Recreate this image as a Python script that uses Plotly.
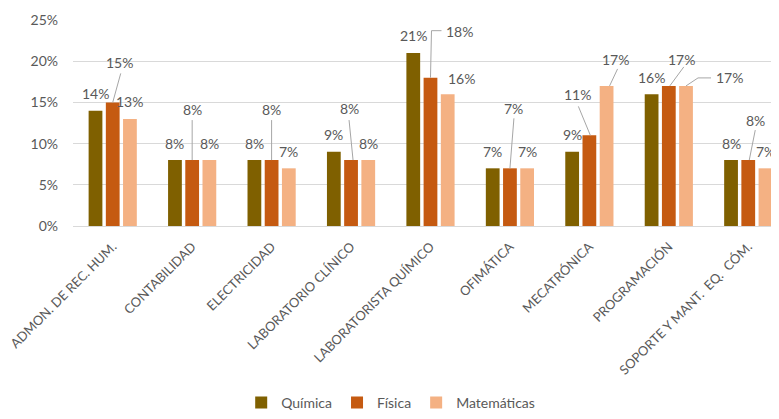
import plotly.graph_objects as go

categories = ["ADMON. DE REC. HUM.", "CONTABILIDAD", "ELECTRICIDAD", "LABORATORIO CLÍNICO",
              "LABORATORISTA QUÍMICO", "OFIMÁTICA", "MECATRÓNICA", "PROGRAMACIÓN",
              "SOPORTE Y MANT.\u00a0 EQ.\u00a0 CÓM."]
series_names = ["Química", "Física", "Matemáticas"]
quimica = [14, 8, 8, 9, 21, 7, 9, 16, 8]
fisica = [15, 8, 8, 8, 18, 7, 11, 17, 8]
matematicas = [13, 8, 7, 8, 16, 7, 17, 17, 7]
y_ticks = [0, 5, 10, 15, 20, 25]
y_tick_labels = ["0%", "5%", "10%", "15%", "20%", "25%"]

colors = ["#7F6000", "#C55A11", "#F4B183"]
series_values = [quimica, fisica, matematicas]

FONT = "Lato, 'Open Sans', sans-serif"
TXT = "#595959"

fig = go.Figure()
for name, vals, col in zip(series_names, series_values, colors):
    fig.add_trace(go.Bar(name=name, x=categories, y=vals, marker=dict(color=col, line=dict(width=0)),
                         hoverinfo="skip"))

# label placement (pixel offsets from bar top centre); default is (0, 17)
bar_offset = [-17.2, 0, 17.2]
special = {
    (1, 0): (7, 40, "M 0,0 L 8,29"),
    (1, 1): (0, 51, "M 0,0 L 0,40"),
    (1, 2): (0, 51, "M 0,0 L 0,40"),
    (1, 3): (-2, 52, "M 2,0 L -2,40"),
    (1, 4): (29, 46, "M 0,0 L 1,47 L 11,47"),
    (2, 4): (14, 16, None),
    (1, 5): (4, 60, "M 0,0 L 4,50"),
    (1, 6): (-12, 41, "M 1,0 L -11,29"),
    (2, 6): (9, 26, "M 3,0 L 11,17"),
    (1, 7): (13, 26, "M 1,0 L 15,19"),
    (2, 7): (43, 8, "M 0,0 L 12,8 L 25,8"),
    (1, 8): (7, 40, "M 1,0 L 7,30"),
}

annotations = []
shapes = []
for s, vals in enumerate(series_values):
    for c, v in enumerate(vals):
        dx, dy, path = special.get((s, c), (0, 17, None))
        annotations.append(dict(
            x=categories[c], y=v, xref="x", yref="y", text=f"{v}%", showarrow=False,
            xshift=bar_offset[s] + dx, yshift=dy, xanchor="center", yanchor="middle",
            font=dict(family=FONT, size=14, color=TXT)))
        if path:
            segs = []
            for part in path.split(" L "):
                part = part.replace("M ", "")
                px, py = part.split(",")
                segs.append(f"{float(px) + bar_offset[s]:.1f},{float(py):.1f}")
            p = "M " + " L ".join(segs)
            shapes.append(dict(type="path", path=p, xref="x", yref="y",
                               xsizemode="pixel", ysizemode="pixel",
                               xanchor=categories[c], yanchor=v,
                               line=dict(color="#A6A6A6", width=1), layer="above"))

# page body has an 8px default margin; figure is sized so it fits the 779x419 window
fig.update_layout(
    width=771, height=411,
    margin=dict(l=65, r=0, t=12, b=189),
    paper_bgcolor="white", plot_bgcolor="white",
    barmode="group", bargap=0.35, bargroupgap=0.2,
    font=dict(family=FONT, color=TXT),
    showlegend=True,
    legend=dict(orientation="h", x=0.45, xanchor="center", y=-0.86, yanchor="middle",
                font=dict(family=FONT, size=14, color=TXT), itemwidth=30,
                traceorder="normal"),
    annotations=annotations, shapes=shapes,
    xaxis=dict(range=[-0.5, 8.387], tickangle=-45, showgrid=False, ticks="",
               showline=True, linecolor="#D9D9D9", linewidth=1, automargin=False,
               ticklabelstandoff=7,
               tickfont=dict(family=FONT, size=13, color=TXT)),
    yaxis=dict(range=[0, 25], tickvals=y_ticks, ticktext=y_tick_labels,
               showgrid=True, gridcolor="#D9D9D9", gridwidth=1, zeroline=False,
               showline=False, ticks="", ticklabelstandoff=14, automargin=False,
               tickfont=dict(family=FONT, size=14, color=TXT)),
)

fig.write_html("out.html")
